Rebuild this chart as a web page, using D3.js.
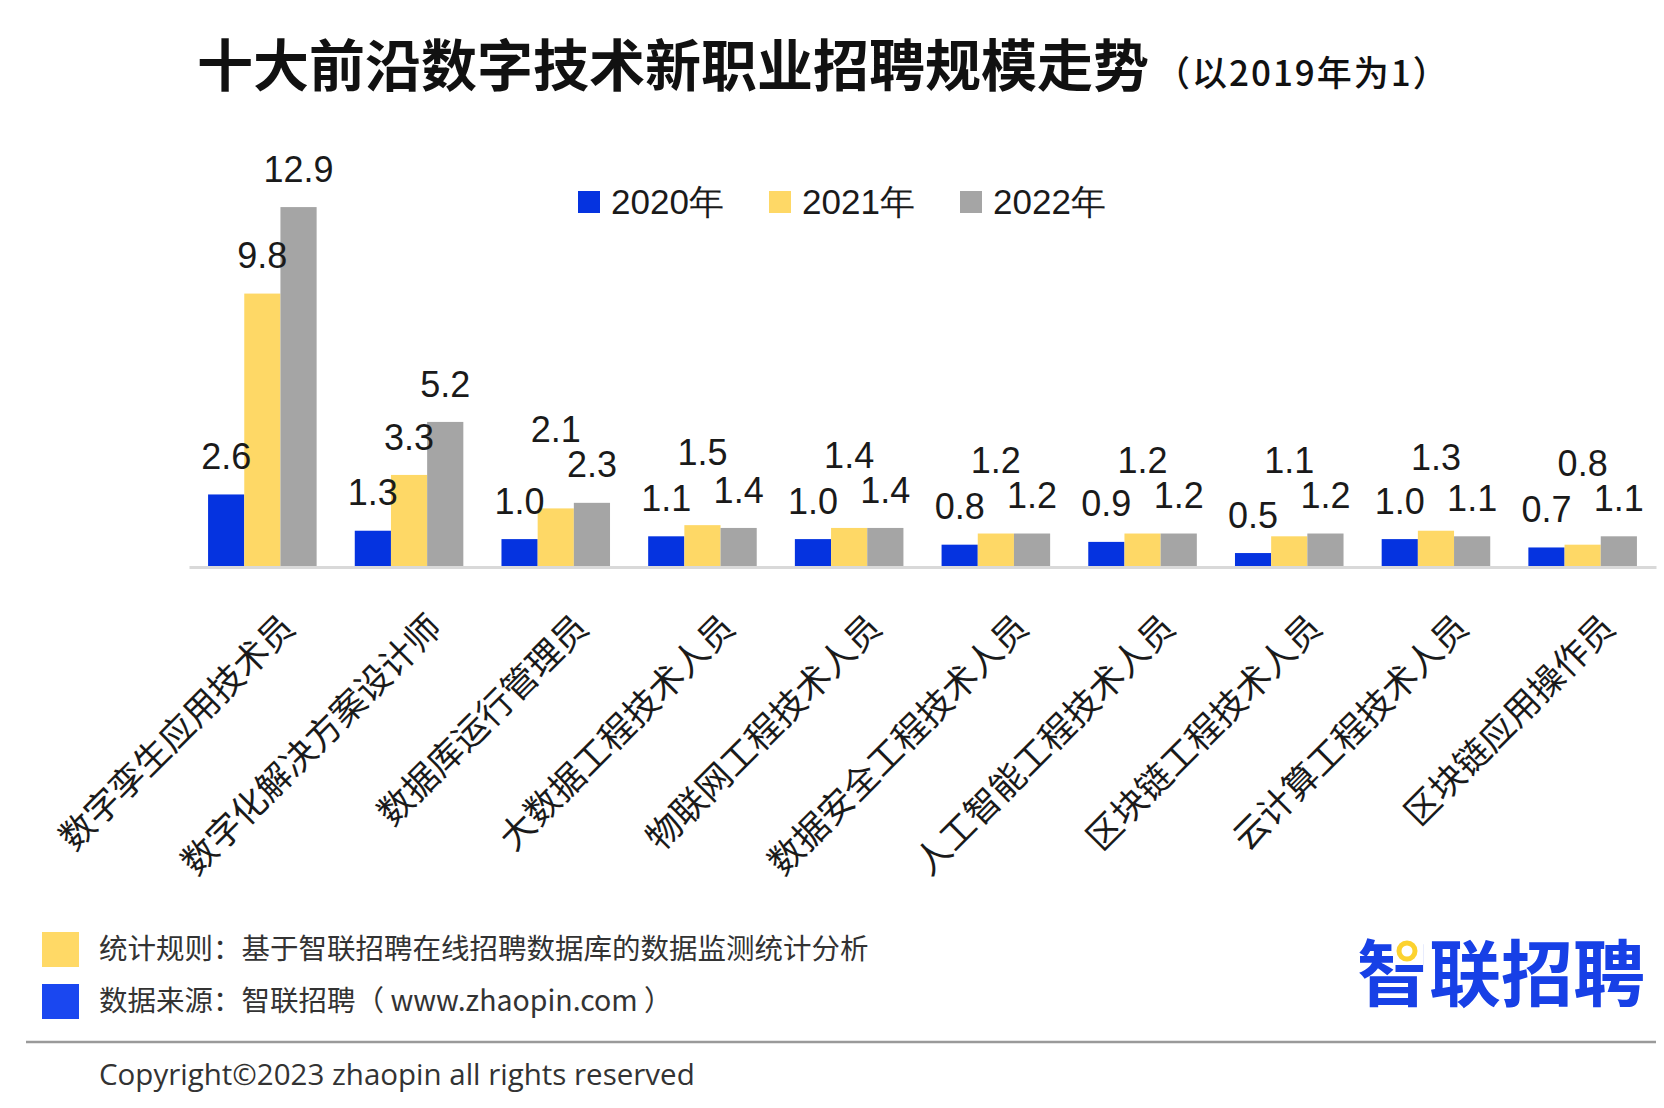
<!DOCTYPE html>
<html>
<head>
<meta charset="utf-8">
<script src="https://cdn.jsdelivr.net/npm/d3@7"></script>
<style>
  html, body { margin: 0; padding: 0; background: #fff; }
  svg { display: block; }
</style>
</head>
<body>
<svg id="chart" width="1664" height="1108"></svg>
<script>
//data
const categories = ['数字孪生应用技术员', '数字化解决方案设计师', '数据库运行管理员', '大数据工程技术人员',
  '物联网工程技术人员', '数据安全工程技术人员', '人工智能工程技术人员', '区块链工程技术人员',
  '云计算工程技术人员', '区块链应用操作员'];
const seriesNames = ['2020年', '2021年', '2022年'];
const v2020 = [2.6, 1.3, 1.0, 1.1, 1.0, 0.8, 0.9, 0.5, 1.0, 0.7];
const v2021 = [9.8, 3.3, 2.1, 1.5, 1.4, 1.2, 1.2, 1.1, 1.3, 0.8];
const v2022 = [12.9, 5.2, 2.3, 1.4, 1.4, 1.2, 1.2, 1.2, 1.1, 1.1];
const footNotes = ['统计规则：基于智联招聘在线招聘数据库的数据监测统计分析', '数据来源：智联招聘（ www.zhaopin.com ）'];

//config
const colors = ['#0533e0', '#fed866', '#a5a5a5'];
const cjk = '"Noto Sans CJK SC", "Microsoft YaHei", sans-serif';
const latin = '"Liberation Sans", Arial, sans-serif';
const baseY = 567;

const svg = d3.select('#chart');
const series = [v2020, v2021, v2022];

const x0 = d3.scaleBand().domain(categories).range([189, 1656]).paddingInner(0.26).paddingOuter(0.13);
const x1 = d3.scaleBand().domain(seriesNames).range([0, x0.bandwidth()]);
const y = d3.scaleLinear().domain([0, 14]).range([baseY, baseY - 14 * 27.9]);

//title
const title = svg.append('text')
  .attr('x', 197).attr('y', 86)
  .style('font-family', cjk).style('font-weight', 700).style('font-size', '56px').attr('fill', '#111');
title.append('tspan').text('十大前沿数字技术新职业招聘规模走势');
title.append('tspan').attr('dx', 6).style('font-size', '35px').style('font-weight', 500)
  .style('letter-spacing', '2px').text('（以2019年为1）');

//legend
const legend = svg.append('g').selectAll('g').data(seriesNames).join('g')
  .attr('transform', (d, i) => `translate(${578 + i * 191},202)`);
legend.append('rect').attr('x', 0).attr('y', -11).attr('width', 22).attr('height', 22).attr('fill', (d, i) => colors[i]);
legend.append('text').attr('x', 33).attr('dy', '0.35em')
  .style('font-family', latin).style('font-size', '35px').attr('fill', '#1a1a1a').text(d => d);

//bars
const rows = categories.map((c, ci) => ({ cat: c, vals: series.map((s, si) => ({ key: seriesNames[si], si, v: s[ci] })) }));

const groups = svg.append('g').selectAll('g').data(rows).join('g')
  .attr('transform', d => `translate(${x0(d.cat)},0)`);

groups.selectAll('rect').data(d => d.vals).join('rect')
  .attr('x', d => x1(d.key))
  .attr('y', d => y(d.v))
  .attr('width', x1.bandwidth())
  .attr('height', d => baseY - y(d.v))
  .attr('fill', d => colors[d.si]);

//value labels, middle label lifted above its neighbours when they collide
const labelH = 35;
groups.each(function(d) {
  const pos = d.vals.map(v => y(v.v) - 38);
  const crowded = Math.abs(pos[1] - pos[0]) < labelH || Math.abs(pos[1] - pos[2]) < labelH;
  if (crowded) pos[1] = Math.min(pos[0], pos[1], pos[2]) - labelH;
  d3.select(this).selectAll('text.val').data(d.vals).join('text')
    .attr('class', 'val')
    .attr('x', v => x1(v.key) + x1.bandwidth() / 2)
    .attr('y', (v, i) => pos[i])
    .attr('dy', '0.35em')
    .attr('text-anchor', 'middle')
    .style('font-family', latin).style('font-size', '36px').attr('fill', '#1a1a1a')
    .text(v => v.v.toFixed(1));
});

//axis
const xAxis = svg.append('g').attr('transform', `translate(0,${baseY})`)
  .call(d3.axisBottom(x0).tickSize(0).tickPadding(0));
xAxis.select('.domain').attr('stroke', '#d9d9d9').attr('stroke-width', 3);
xAxis.selectAll('.tick text')
  .attr('transform', 'translate(26,54) rotate(-45)')
  .attr('text-anchor', 'end')
  .attr('dy', '0.35em')
  .style('font-family', cjk).style('font-size', '35px').attr('fill', '#1a1a1a');

//footer
const foot = svg.append('g').selectAll('g').data(footNotes).join('g')
  .attr('transform', (d, i) => `translate(0,${949 + i * 52})`);
foot.append('rect').attr('x', 42).attr('y', -17).attr('width', 37).attr('height', 35)
  .attr('fill', (d, i) => i === 0 ? '#ffd966' : '#1a47f0');
foot.append('text').attr('x', 99).attr('dy', '0.35em')
  .style('font-family', cjk).style('font-size', '28.5px').attr('fill', '#333').text(d => d);

svg.append('line').attr('x1', 26).attr('x2', 1656).attr('y1', 1042).attr('y2', 1042)
  .attr('stroke', '#9a9a9a').attr('stroke-width', 2.5);

svg.append('text').attr('x', 99).attr('y', 1075).attr('dy', '0.35em')
  .style('font-family', '"Open Sans", sans-serif').style('font-size', '29.5px').attr('fill', '#333')
  .text('Copyright©2023 zhaopin all rights reserved');

//logo
svg.append('text').attr('x', 1645).attr('y', 1000).attr('text-anchor', 'end')
  .style('font-family', cjk).style('font-weight', 700).style('font-size', '72px').attr('fill', '#1740e6')
  .text('智联招聘');
svg.append('rect').attr('x', 1393).attr('y', 932).attr('width', 30).attr('height', 33).attr('fill', '#fff');
svg.append('circle').attr('cx', 1407).attr('cy', 951).attr('r', 8)
  .attr('fill', 'none').attr('stroke', '#fcd22f').attr('stroke-width', 5);
</script>
</body>
</html>
